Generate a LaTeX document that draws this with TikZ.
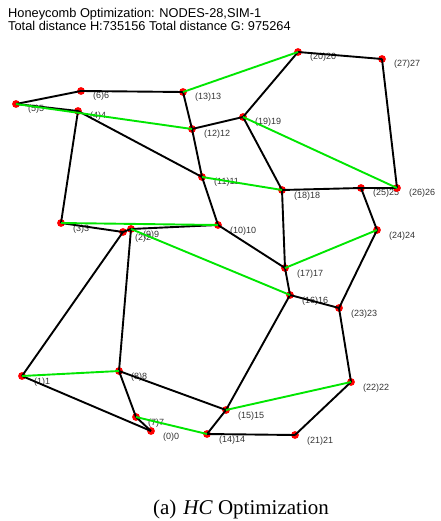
\documentclass[tikz,border=0pt]{standalone}
\usepackage{fontspec}
\setmainfont{Liberation Sans}
\newfontfamily\capfont{Liberation Serif}
\definecolor{gcol}{RGB}{0,230,0}
\begin{document}
\begin{tikzpicture}[x=1pt,y=-1pt,
 dot/.style={circle,fill=red,draw=none,inner sep=0pt,minimum size=7.8pt},
 lab/.style={anchor=base west,font=\fontsize{9}{10}\selectfont,text=black!80,inner sep=0pt},
 blk/.style={line width=1.9pt,black},
 grn/.style={line width=1.9pt,gcol},
 ttl/.style={anchor=base west,font=\fontsize{12.8}{13}\selectfont,inner sep=0pt}]
\useasboundingbox (0,0) rectangle (440,521);
\foreach \i/\x/\y in {0/151/431,1/22/376,2/123/232,3/61/223,4/78/111,5/16/104,6/81/91,
  7/136/417,8/119/371,9/131/229,10/218/225,11/202/177,12/192/129,13/183/92,
  14/207/434,15/226/410,16/290/295,17/285/268,18/282/190,19/243/117,20/298/52,
  21/295/435,22/351/382,23/339/308,24/377/230,25/361/188,26/397/188,27/382/59}{
  \node[dot] (n\i) at (\x,\y) {};
  \node[lab] (l\i) at (\x+12,\y+8) {(\i)\i};
}
\foreach \a/\b in {5/6,6/13,5/4,4/11,4/3,13/12,12/19,12/11,11/10,19/20,19/18,20/27,27/26,
  18/25,25/26,25/24,18/17,10/17,17/16,16/23,24/23,23/22,22/21,21/14,16/15,15/14,
  15/8,8/7,7/0,1/0,1/2,9/8,3/2,2/9,9/10}{
  \draw[blk] (n\a.center) -- (n\b.center);
}
\foreach \a/\b in {13/20,5/12,11/18,19/26,3/10,9/16,17/24,1/8,7/14,15/22}{
  \draw[grn] (n\a.center) -- (n\b.center);
}
\node[ttl] (t1) at (8,18) {Honeycomb Optimization: NODES-28,SIM-1};
\node[ttl] (t2) at (8,31) {Total distance H:735156 Total distance G: 975264};
\node[anchor=base,inner sep=0pt,font=\capfont\fontsize{21}{23}\selectfont] (cap) at (241,514) {(a)\hspace{0.33em}\textit{HC} Optimization};
\end{tikzpicture}
\end{document}
